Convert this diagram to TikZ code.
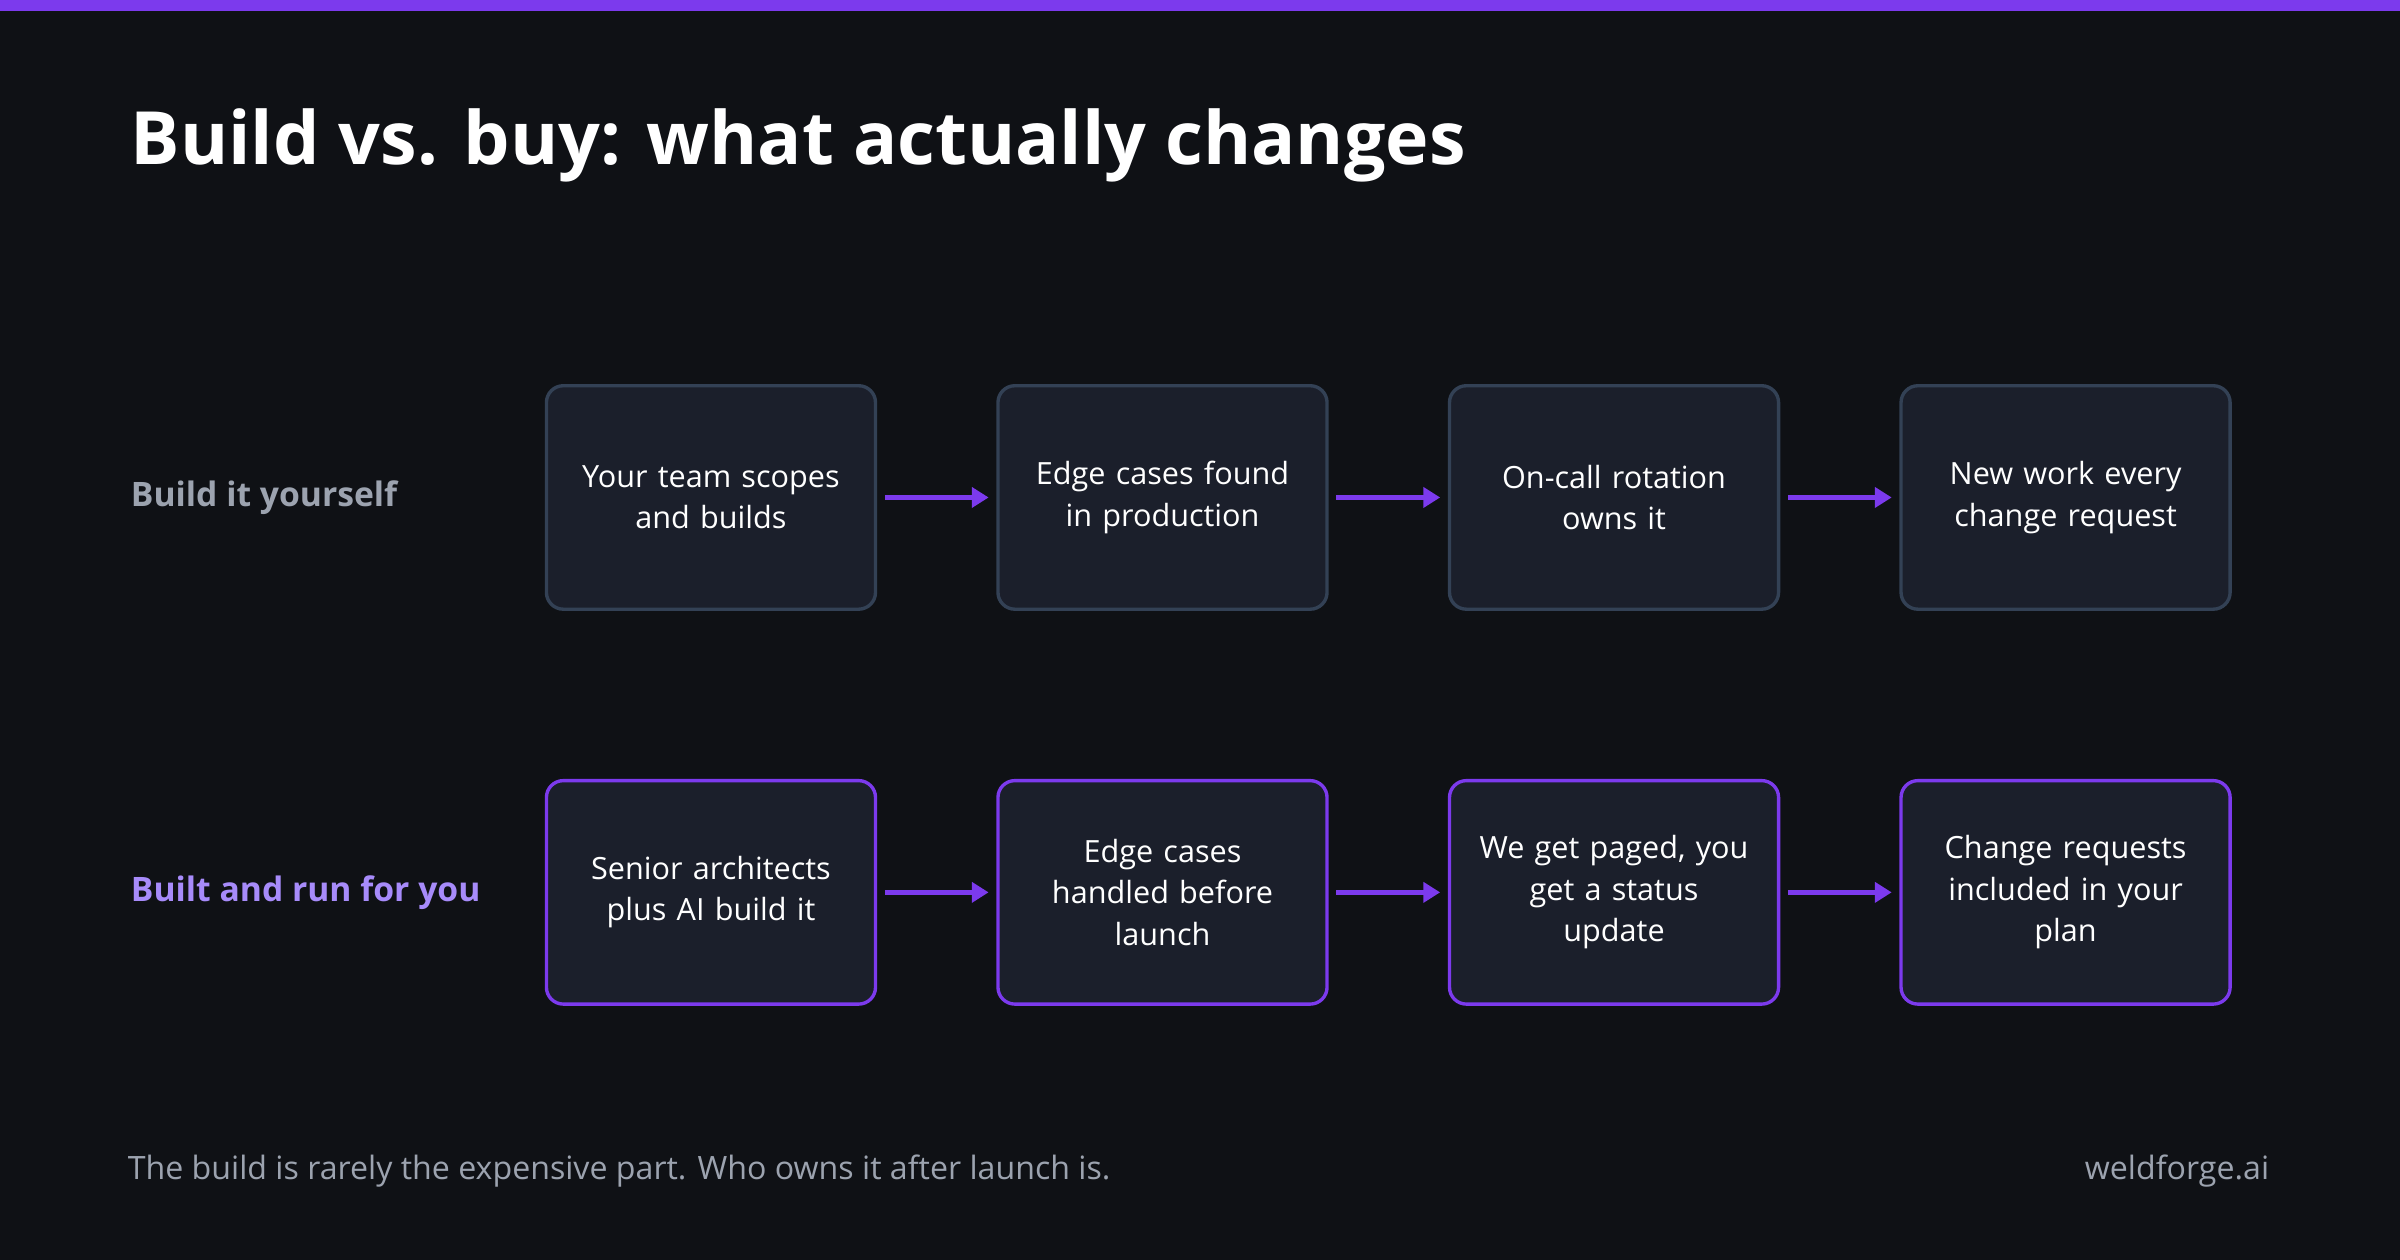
\documentclass[tikz,border=0pt]{standalone}
\usepackage{fontspec}
\setmainfont{Open Sans}
\usetikzlibrary{arrows.meta}
\definecolor{bg}{HTML}{0F1115}
\definecolor{boxf}{HTML}{1B1F2B}
\definecolor{gb}{HTML}{334155}
\definecolor{pur}{HTML}{7C3AED}
\definecolor{lpur}{HTML}{A78BFA}
\definecolor{gtx}{HTML}{9CA3AF}
\begin{document}
\begin{tikzpicture}[x=1pt,y=-1pt,
 box/.style={draw, line width=2.2pt, rounded corners=11pt, fill=boxf, minimum width=215pt, minimum height=146pt, text width=190pt, align=center, text=white, font=\fontsize{20}{27}\selectfont},
 gbox/.style={box, draw=gb},
 pbox/.style={box, draw=pur},
 arr/.style={draw=pur, line width=3pt, -{Triangle[length=11pt,width=13pt]}},
 lab/.style={anchor=west, font=\fontsize{22}{26}\selectfont\bfseries}]
\useasboundingbox (0,0) rectangle (1568,823);
\fill[bg] (0,0) rectangle (1568,823);
\fill[pur] (0,0) rectangle (1568,7);
\node[anchor=west, text=white, font=\fontsize{48}{56}\selectfont\bfseries] (title) at (82,95) {Build vs. buy: what actually changes};
\node[lab, text=gtx] (l1) at (82,325) {Build it yourself};
\node[lab, text=lpur] (l2) at (82,583) {Built and run for you};
\foreach \i/\x/\t in {1/464.5/{Your team scopes\\and builds},2/759.5/{Edge cases found\\in production},3/1054.5/{On-call rotation\\owns it},4/1349.5/{New work every\\change request}}
  \node[gbox] (a\i) at (\x,325) {\t};
\foreach \i/\x/\t in {1/464.5/{Senior architects\\plus AI build it},2/759.5/{Edge cases\\handled before\\launch},3/1054.5/{We get paged, you\\get a status\\update},4/1349.5/{Change requests\\included in your\\plan}}
  \node[pbox] (b\i) at (\x,583) {\t};
\foreach \i/\j in {1/2,2/3,3/4}{
  \draw[arr] ([xshift=5pt]a\i.east) -- ([xshift=-5pt]a\j.west);
  \draw[arr] ([xshift=5pt]b\i.east) -- ([xshift=-5pt]b\j.west);
}
\node[anchor=west, text=gtx, font=\fontsize{21}{25}\selectfont] (foot) at (80,765) {The build is rarely the expensive part. Who owns it after launch is.};
\node[anchor=east, text=gtx, font=\fontsize{21}{25}\selectfont] (brand) at (1486,765) {weldforge.ai};
\end{tikzpicture}
\end{document}
